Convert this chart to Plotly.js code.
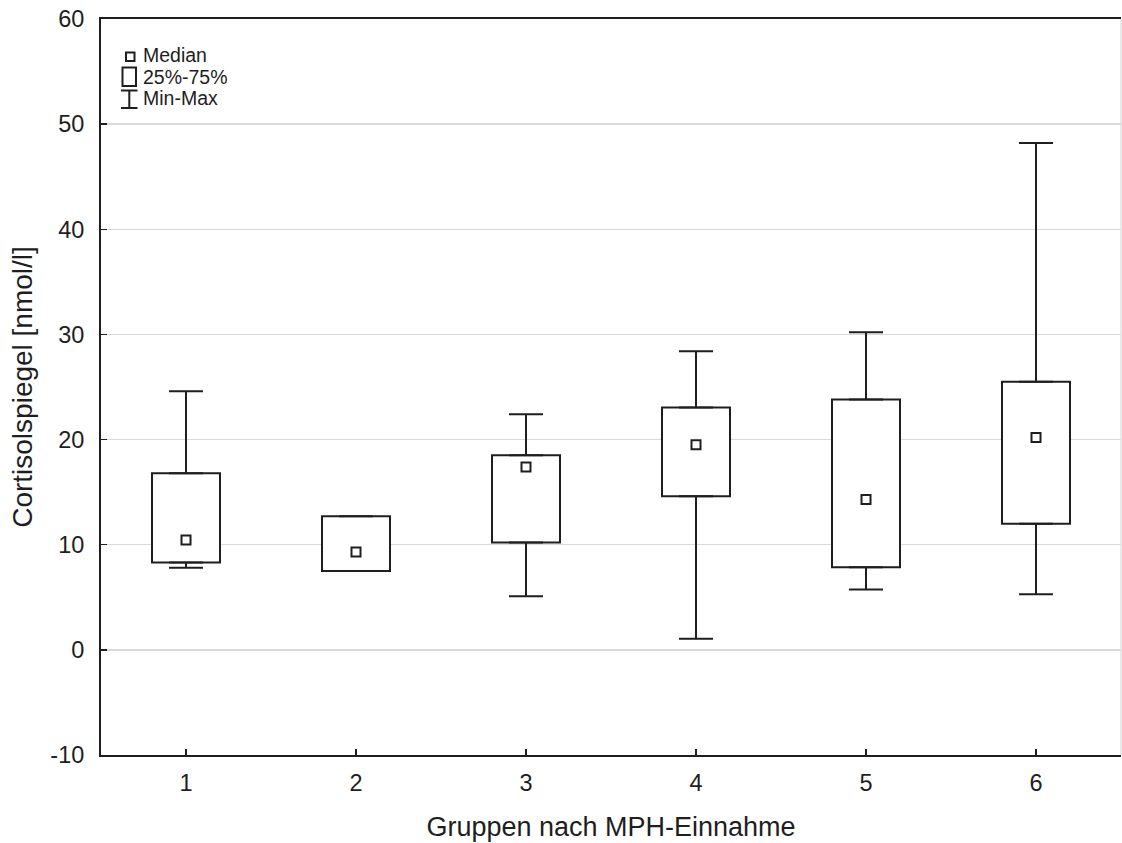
<!DOCTYPE html>
<html>
<head>
<meta charset="utf-8">
<script src="https://cdn.plot.ly/plotly-3.0.1.min.js"></script>
<style>html,body{margin:0;padding:0;background:#fff;}#chart{width:1122px;height:843px;}</style>
</head>
<body>
<div id="chart"></div>
<script>
// Data
const groups   = [1, 2, 3, 4, 5, 6];
const mins     = [7.8, 7.5, 5.1, 1.05, 5.75, 5.3];
const q1       = [8.3, 7.5, 10.2, 14.6, 7.85, 12.0];
const medians  = [10.45, 9.3, 17.4, 19.5, 14.3, 20.2];
const q3       = [16.8, 12.7, 18.5, 23.05, 23.8, 25.5];
const maxs     = [24.6, 12.7, 22.4, 28.4, 30.2, 48.2];
const yTicks   = [-10, 0, 10, 20, 30, 40, 50, 60];
const legendLabels = ["Median", "25%-75%", "Min-Max"];

const INK = '#1e1e1e';
const FONT = 'Liberation Sans, Arial, sans-serif';

const traces = [
  { // IQR boxes
    type: 'bar', x: groups, base: q1,
    y: q3.map((v, i) => v - q1[i]),
    width: 0.4,
    marker: { color: 'rgba(255,255,255,1)', line: { color: INK, width: 2 } },
    hoverinfo: 'skip', showlegend: false
  },
  { // upper whiskers
    type: 'scatter', mode: 'markers', x: groups, y: q3,
    marker: { size: 1, opacity: 0 },
    error_y: { type: 'data', symmetric: false,
      array: maxs.map((v, i) => v - q3[i]), arrayminus: groups.map(() => 0),
      color: INK, thickness: 2, width: 17 },
    hoverinfo: 'skip', showlegend: false
  },
  { // lower whiskers
    type: 'scatter', mode: 'markers', x: groups, y: q1,
    marker: { size: 1, opacity: 0 },
    error_y: { type: 'data', symmetric: false,
      array: groups.map(() => 0), arrayminus: q1.map((v, i) => v - mins[i]),
      color: INK, thickness: 2, width: 17 },
    hoverinfo: 'skip', showlegend: false
  },
  { // medians
    type: 'scatter', mode: 'markers', x: groups, y: medians,
    marker: { symbol: 'square-open', size: 9, color: INK, line: { width: 2, color: INK } },
    hoverinfo: 'skip', showlegend: false
  }
];

// plot-area pixel geometry helpers for the in-plot legend
const L = 101, T = 19, W = 1020, H = 736;
const px = v => (v - L) / W;
const py = v => (T + H - v) / H;

const shapes = [
  // light right border
  { type: 'line', xref: 'paper', yref: 'paper', x0: 1, x1: 1, y0: 0, y1: 1,
    line: { color: '#d4d4d4', width: 1 } },
  // legend: median square
  { type: 'rect', xref: 'paper', yref: 'paper', x0: px(126), x1: px(134.5), y0: py(61), y1: py(52.5),
    line: { color: INK, width: 2 }, fillcolor: 'rgba(0,0,0,0)' },
  // legend: box
  { type: 'rect', xref: 'paper', yref: 'paper', x0: px(122.5), x1: px(136), y0: py(86), y1: py(67.5),
    line: { color: INK, width: 2 }, fillcolor: 'rgba(0,0,0,0)' },
  // legend: whisker
  { type: 'line', xref: 'paper', yref: 'paper', x0: px(129.3), x1: px(129.3), y0: py(108), y1: py(90.5),
    line: { color: INK, width: 2 } },
  { type: 'line', xref: 'paper', yref: 'paper', x0: px(121), x1: px(137.5), y0: py(90.5), y1: py(90.5),
    line: { color: INK, width: 2 } },
  { type: 'line', xref: 'paper', yref: 'paper', x0: px(121), x1: px(137.5), y0: py(108), y1: py(108),
    line: { color: INK, width: 2 } }
];

const legendY = [55.5, 76.5, 98];
const annotations = legendLabels.map((t, i) => ({
  text: t, xref: 'paper', yref: 'paper', x: px(141), y: py(legendY[i]),
  xanchor: 'left', yanchor: 'middle', showarrow: false,
  font: { family: FONT, size: 19.5, color: INK }
}));

const layout = {
  width: 1122, height: 843,
  margin: { l: 101, r: 1, t: 19, b: 88, pad: 0 },
  paper_bgcolor: '#fff', plot_bgcolor: '#fff',
  showlegend: false,
  font: { family: FONT, color: INK, size: 23 },
  xaxis: {
    range: [0.5, 6.5], tickvals: groups, ticktext: groups.map(String),
    ticks: 'inside', ticklen: 6, tickwidth: 1.5, tickcolor: INK,
    showgrid: false, zeroline: false,
    showline: true, linecolor: INK, linewidth: 2, mirror: true,
    tickfont: { family: FONT, size: 23.5, color: INK },
    ticklabelstandoff: 6,
    title: { text: 'Gruppen nach MPH-Einnahme', font: { family: FONT, size: 27, color: INK }, standoff: 22 },
    automargin: false, fixedrange: true
  },
  yaxis: {
    range: [-10, 60], tickvals: yTicks, ticktext: yTicks.map(String),
    ticks: 'inside', ticklen: 6, tickwidth: 1.5, tickcolor: INK,
    showgrid: true, gridcolor: '#d9d9d9', gridwidth: 1.5, zeroline: false,
    showline: true, linecolor: INK, linewidth: 2, mirror: false,
    tickfont: { family: FONT, size: 23.5, color: INK },
    ticklabelstandoff: 10,
    title: { text: 'Cortisolspiegel [nmol/l]', font: { family: FONT, size: 28, color: INK }, standoff: 10 },
    automargin: false, fixedrange: true
  },
  shapes: shapes,
  annotations: annotations,
  bargap: 0
};

Plotly.newPlot('chart', traces, layout, { staticPlot: true, displayModeBar: false });
</script>
</body>
</html>
